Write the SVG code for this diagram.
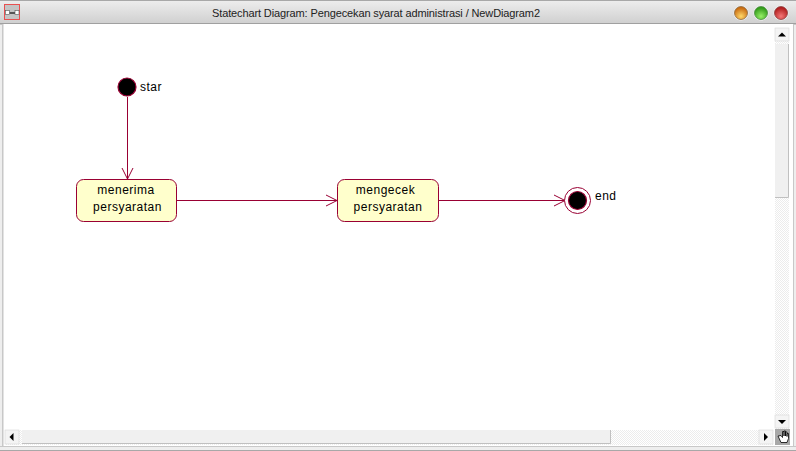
<svg xmlns="http://www.w3.org/2000/svg" width="796" height="451" viewBox="0 0 796 451">
<style>
.t{font-family:"Liberation Sans",Arial,sans-serif;font-size:12px;fill:#000;letter-spacing:.5px}
.s{fill:#ffffcc;stroke:#990033;stroke-width:1}
.c{fill:none;stroke:#990033;stroke-width:1}
.d{fill:#000;stroke:#990033;stroke-width:1.2}
.b{fill:#f0f0f0;stroke:none}
</style>
<defs>
<linearGradient id="tb" x1="0" y1="0" x2="0" y2="1"><stop offset="0" stop-color="#eeeeee"/><stop offset="1" stop-color="#cfcfcf"/></linearGradient>
<radialGradient id="o" cx=".5" cy=".75" r=".65"><stop offset="0" stop-color="#ffd868"/><stop offset="1" stop-color="#c86a10"/></radialGradient>
<radialGradient id="g" cx=".5" cy=".75" r=".65"><stop offset="0" stop-color="#98f068"/><stop offset="1" stop-color="#309a18"/></radialGradient>
<radialGradient id="r" cx=".5" cy=".75" r=".65"><stop offset="0" stop-color="#f47878"/><stop offset="1" stop-color="#b01c1c"/></radialGradient>
<pattern id="h" width="2" height="2" patternUnits="userSpaceOnUse"><rect width="2" height="2" fill="#ffffff"/><rect width="1" height="1" fill="#ececec"/><rect x="1" y="1" width="1" height="1" fill="#ececec"/></pattern>
</defs>
<g id="window">
<rect width="796" height="451" fill="#eeeeee"/>
<rect width="796" height="24" fill="url(#tb)"/>
<rect y="0" width="796" height="1" fill="#a8a8a8"/>
<rect y="23" width="796" height="1.5" fill="#a0a0a0"/>
<rect x="3" y="24" width="790" height="422" fill="#ffffff"/>
<rect x="2" y="24" width="1.5" height="422" fill="#c8c8c8"/>
<rect x="793" y="24" width="1" height="422" fill="#c8c8c8"/>
<rect y="446" width="796" height="1" fill="#c8c8c8"/>
<rect y="450" width="796" height="1" fill="#a8a8a8"/>
<g id="icon"><rect x="4.500" y="4.500" width="15" height="15" fill="#c4c4c4" stroke="#e85050"/><rect x="8" y="12" width="9" height="2" fill="#555"/><rect x="5.500" y="10.500" width="4" height="4" fill="#fff" stroke="#555" stroke-width=".6"/><rect x="15" y="10.500" width="4" height="4" fill="#fff" stroke="#555" stroke-width=".6"/></g>
<text x="212" y="17" textLength="328" lengthAdjust="spacing" font-family="Liberation Sans,Arial,sans-serif" font-size="11px" fill="#222">Statechart Diagram: Pengecekan syarat administrasi / NewDiagram2</text>
<circle cx="741" cy="13" r="7.500" fill="#f4f4f4"/>
<circle cx="761" cy="13" r="7.500" fill="#f4f4f4"/>
<circle cx="781" cy="13" r="7.500" fill="#f4f4f4"/>
<circle cx="741" cy="13" r="6.500" fill="url(#o)" stroke="#8a6a40" stroke-width=".8"/>
<circle cx="761" cy="13" r="6.500" fill="url(#g)" stroke="#4a8a40" stroke-width=".8"/>
<circle cx="781" cy="13" r="6.500" fill="url(#r)" stroke="#8a4040" stroke-width=".8"/>
</g>
<g id="scrollbars">
<rect x="775" y="28" width="14" height="401" fill="url(#h)"/>
<rect x="5" y="430" width="768" height="15" fill="url(#h)"/>
<rect x="775" y="44" width="13" height="153" class="b"/>
<path d="M788.500 44V197.500H775" fill="none" stroke="#c0c0c0"/>
<rect x="22" y="430" width="589" height="14" class="b"/>
<path d="M22 443.500H610.500V430" fill="none" stroke="#c0c0c0"/>
<rect x="775" y="28" width="14" height="13" fill="#f4f4f4" stroke="#d8d8d8" stroke-width=".6"/>
<path d="M778 36.500h8l-4-4z" fill="#000"/>
<rect x="775" y="415" width="14" height="13" fill="#f4f4f4" stroke="#d8d8d8" stroke-width=".6"/>
<path d="M778 420h8l-4 4z" fill="#000"/>
<rect x="5" y="430" width="14" height="14" fill="#f4f4f4" stroke="#d8d8d8" stroke-width=".6"/>
<path d="M13.500 433v8l-4-4z" fill="#000"/>
<rect x="759" y="430" width="14" height="14" fill="#f4f4f4" stroke="#d8d8d8" stroke-width=".6"/>
<path d="M764 433v8l4-4z" fill="#000"/>
<g id="hand"><rect x="775" y="429" width="15" height="16" fill="#a8a8a8"/><path d="M778 436l3 6.500h6l1.500-4v-5h-1.500v3-4.500h-1.500v4-5h-1.500v5-4.500h-1.500v6l-1.500-2z" fill="#fff" stroke="#000" stroke-width=".8"/></g>
</g>
<g id="connectors">
<path class="c" d="M127.500 97V179"/>
<path class="c" d="M122 168L127.500 179L133 168"/>
<path class="c" d="M177 200.500H337"/>
<path class="c" d="M326 195L337 200.500L326 206"/>
<path class="c" d="M439 200.500H565"/>
<path class="c" d="M554 195L565 200.500L554 206"/>
</g>
<g id="star">
<circle class="d" cx="127" cy="87" r="9"/>
<text class="t" x="140" y="91">star</text>
</g>
<g id="menerima">
<rect class="s" x="76.500" y="179.500" width="100" height="42" rx="7"/>
<text class="t" x="126" y="194" text-anchor="middle">menerima</text>
<text class="t" x="127.500" y="211" text-anchor="middle">persyaratan</text>
</g>
<g id="mengecek">
<rect class="s" x="337.500" y="179.500" width="101" height="42" rx="7"/>
<text class="t" x="385.500" y="194" text-anchor="middle">mengecek</text>
<text class="t" x="388" y="211" text-anchor="middle">persyaratan</text>
</g>
<g id="end">
<circle cx="577.500" cy="200.500" r="13" fill="#fff" stroke="#990033"/>
<circle class="d" cx="577.500" cy="200.500" r="9"/>
<text class="t" x="595" y="200">end</text>
</g>
</svg>
